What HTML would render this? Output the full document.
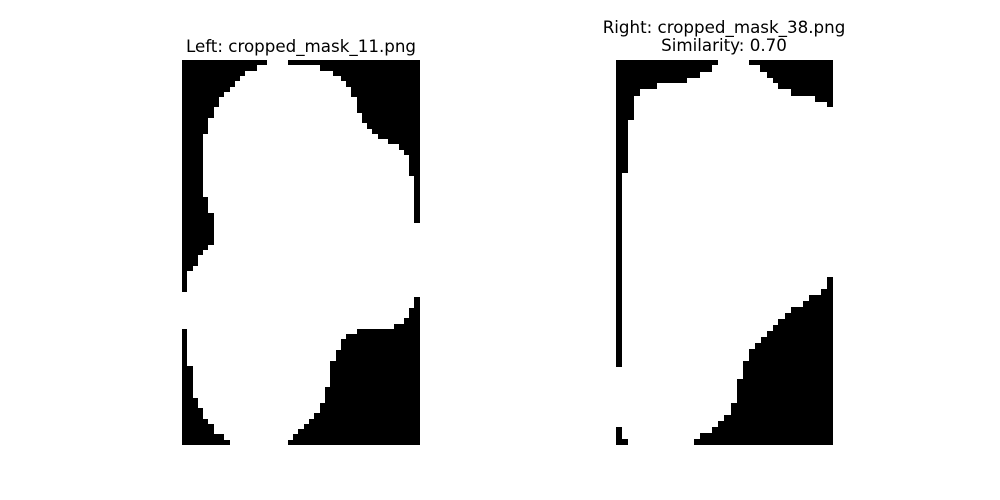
<!DOCTYPE html>
<html><head><meta charset="utf-8"><style>
html,body{margin:0;padding:0;background:#fff;}
svg{display:block;}
text{font-family:"DejaVu Sans","Liberation Sans",sans-serif;font-size:16.7px;fill:#000;}
</style></head><body>
<svg width="1000" height="500" viewBox="0 0 1000 500">
<g>
<text x="301" y="52" text-anchor="middle">Left: cropped_mask_11.png</text>
<rect x="182" y="60" width="238" height="385" fill="#fff"/>
<polygon fill="#000" points="182,60 267,60 267,65 257,65 257,71 245,71 245,76 240,76 240,81 235,81 235,87 230,87 230,92 224,92 224,97 219,97 219,107 214,107 214,118 208,118 208,134 203,134 203,197 208,197 208,213 214,213 214,245 208,245 208,250 203,250 203,255 198,255 198,266 193,266 193,271 187,271 187,292 182,292"/>
<polygon fill="#000" points="288,60 288,65 320,65 320,71 333,71 333,76 341,76 341,81 346,81 346,87 351,87 351,97 357,97 357,113 362,113 362,123 367,123 367,129 372,129 372,134 378,134 378,139 388,139 388,144 399,144 399,150 404,150 404,155 409,155 409,176 414,176 414,223 420,223 420,60"/>
<polygon fill="#000" points="182,329 187,329 187,366 193,366 193,398 198,398 198,408 203,408 203,419 208,419 208,424 214,424 214,434 224,434 224,440 230,440 230,445 182,445"/>
<polygon fill="#000" points="288,445 288,440 293,440 293,434 298,434 298,429 304,429 304,424 309,424 309,419 314,419 314,413 320,413 320,403 325,403 325,387 330,387 330,361 336,361 336,350 341,350 341,339 346,339 346,334 357,334 357,329 394,329 394,324 404,324 404,318 409,318 409,308 414,308 414,297 420,297 420,445"/>
</g>
<g>
<text x="724" y="33" text-anchor="middle">Right: cropped_mask_38.png</text>
<text x="724" y="51" text-anchor="middle">Similarity: 0.70</text>
<rect x="616" y="60" width="217" height="385" fill="#fff"/>
<polygon fill="#000" points="616,60 718,60 718,65 712,65 712,72 700,72 700,78 687,78 687,83 657,83 657,89 640,89 640,96 634,96 634,120 628,120 628,173 622,173 622,367 616,367"/>
<polygon fill="#000" points="616,427 622,427 622,439 628,439 628,445 616,445"/>
<polygon fill="#000" points="749,60 749,65 760,65 760,72 767,72 767,78 773,78 773,83 778,83 778,89 791,89 791,96 815,96 815,102 827,102 827,107 833,107 833,60"/>
<polygon fill="#000" points="694,445 694,439 700,439 700,433 712,433 712,427 718,427 718,421 724,421 724,415 731,415 731,403 737,403 737,379 743,379 743,361 749,361 749,349 755,349 755,343 761,343 761,337 767,337 767,331 773,331 773,325 778,325 778,319 785,319 785,313 791,313 791,307 803,307 803,301 809,301 809,295 821,295 821,289 827,289 827,277 833,277 833,445"/>
</g>
</svg>
</body></html>
